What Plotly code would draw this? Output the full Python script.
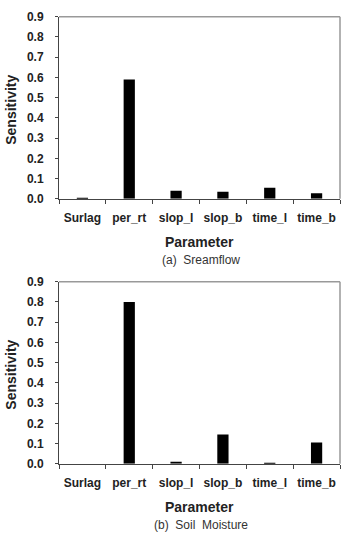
import plotly.graph_objects as go

params = ["Surlag", "per_rt", "slop_l", "slop_b", "time_l", "time_b"]
streamflow = [0.003, 0.59, 0.04, 0.035, 0.055, 0.028]
soil_moisture = [0.0, 0.80, 0.01, 0.145, 0.003, 0.105]
y_ticks = [0.0, 0.1, 0.2, 0.3, 0.4, 0.5, 0.6, 0.7, 0.8, 0.9]
captions = ["(a)  Sreamflow", "(b)  Soil  Moisture"]

W, H = 344, 538
FONT = "Liberation Sans, Arial, sans-serif"

# panel pixel boxes (x0, x1, ytop, ybottom)
panels = [(59, 340, 10, 197), (59, 340, 282, 469)]

fig = go.Figure()
series = [streamflow, soil_moisture]
for i, (vals, (x0, x1, yt, yb)) in enumerate(zip(series, panels)):
    xa = "x" if i == 0 else "x2"
    ya = "y" if i == 0 else "y2"
    fig.add_trace(go.Bar(x=params, y=vals, xaxis=xa, yaxis=ya,
                         marker=dict(color="black", line=dict(width=0)),
                         width=0.24, showlegend=False))
    axx = dict(domain=[x0 / W, x1 / W], anchor=ya, type="category",
               showline=True, linecolor="#444", linewidth=1,
               ticks="outside", tickson="boundaries", ticklen=4, tickcolor="#444",
               tickangle=0,
               tickfont=dict(family=FONT, size=12, color="#222", weight="bold"),
               ticklabelstandoff=8, showgrid=False, zeroline=False, fixedrange=True)
    axy = dict(domain=[1 - yb / H, 1 - yt / H], anchor=xa, range=[0, 0.9],
               tickvals=y_ticks, tickformat=".1f",
               showline=True, linecolor="#444", linewidth=1,
               ticks="outside", ticklen=3, tickcolor="#444",
               tickfont=dict(family=FONT, size=12, color="#222", weight="bold"),
               ticklabelstandoff=9, showgrid=False, zeroline=False, fixedrange=True)
    if i == 0:
        fig.update_layout(xaxis=axx, yaxis=axy)
    else:
        fig.update_layout(xaxis2=axx, yaxis2=axy)
    # top/right gray frame
    fig.add_shape(type="line", xref="paper", yref="paper",
                  x0=x0 / W, x1=x1 / W, y0=1 - yt / H, y1=1 - yt / H,
                  line=dict(color="#999", width=1.5))
    fig.add_shape(type="line", xref="paper", yref="paper",
                  x0=x1 / W, x1=x1 / W, y0=1 - yb / H, y1=1 - yt / H,
                  line=dict(color="#999", width=1.5))
    # axis titles and captions
    cx = (x0 + x1) / 2 / W
    fig.add_annotation(text="<b>Sensitivity</b>", xref="paper", yref="paper",
                       x=11 / W, y=1 - ((yt + yb) / 2 + 2) / H, textangle=-90,
                       showarrow=False, xanchor="center", yanchor="middle",
                       font=dict(family=FONT, size=14, color="#222"))
    fig.add_annotation(text="<b>Parameter</b>", xref="paper", yref="paper",
                       x=cx, y=1 - (yb + 44) / H, showarrow=False,
                       xanchor="center", yanchor="middle",
                       font=dict(family=FONT, size=14, color="#222"))
    fig.add_annotation(text=captions[i], xref="paper", yref="paper",
                       x=cx + 1.5 / W, y=1 - (yb + 62.5) / H, showarrow=False,
                       xanchor="center", yanchor="middle",
                       font=dict(family=FONT, size=12, color="#333"))

fig.update_layout(width=W, height=H, margin=dict(l=0, r=0, t=0, b=0),
                  paper_bgcolor="white", plot_bgcolor="white", bargap=0.76)
fig.write_html("out.html")
